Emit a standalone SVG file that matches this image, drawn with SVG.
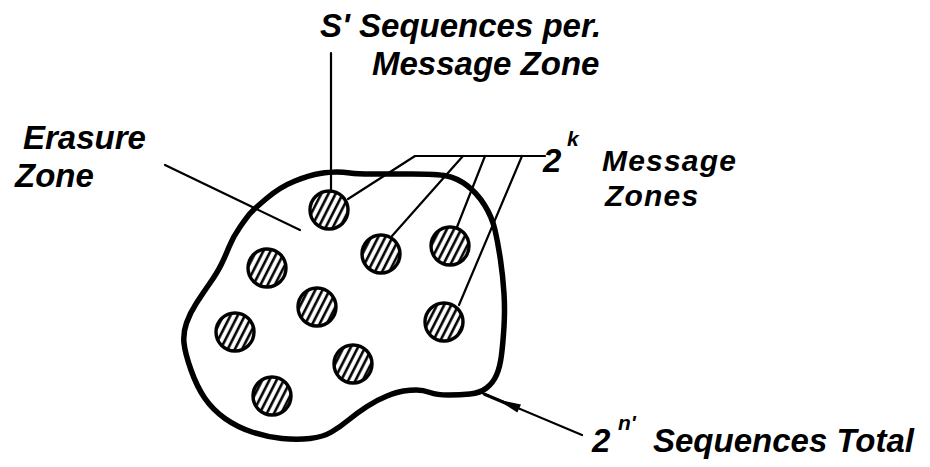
<svg xmlns="http://www.w3.org/2000/svg" width="930" height="467" viewBox="0 0 930 467">
<style>
.t{font-family:"Liberation Sans",Arial,sans-serif;font-weight:bold;font-style:italic;font-size:33px;fill:#000}
.s30{font-size:30px;letter-spacing:1.2px}
.sup{font-size:21px}
.ld{stroke:#000;stroke-width:2.2;fill:none;stroke-linecap:round;stroke-linejoin:round}
.zone{fill:url(#hatch);stroke:#000;stroke-width:3.4}
.blob{fill:none;stroke:#000;stroke-width:5.5;stroke-linejoin:round}
</style>
<defs>
<pattern id="hatch" patternUnits="userSpaceOnUse" width="6.4" height="10" patternTransform="rotate(27)">
<rect width="6.4" height="10" fill="#fff"/>
<line x1="3" y1="-1" x2="3" y2="11" stroke="#000" stroke-width="2.6"/>
</pattern>
</defs>
<rect width="930" height="467" fill="#fff"/>
<g id="total-space">
<path class="blob" d="M266.5,198.5 Q280,187 295,181 Q310,175 320,173.5 Q330,172 336.5,172 Q343,172 350,173 Q357,174 372,174 Q387,174 412,174 Q437,174 447,176 Q457,178 467,185.5 Q477,193 484.5,205 Q492,217 495,230 Q498,243 500.5,260 Q503,277 504,293.5 Q505,310 504,326.5 Q503,343 501.5,355 Q500,367 496.5,375 Q493,383 486.5,388 Q480,393 470,394 Q460,395 448.5,395 Q437,395 430,392.5 Q423,390 416.5,390 Q410,390 403.5,391 Q397,392 387,396 Q377,400 367,406.5 Q357,413 348.5,420 Q340,427 331.5,432 Q323,437 310,438.5 Q297,440 282,438.5 Q267,437 252,432 Q237,427 225,418.5 Q213,410 205,398.5 Q197,387 191,370 Q185,353 184,343 Q183,333 186.5,323 Q190,313 196.5,303 Q203,293 210,283 Q217,273 221,265 Q225,257 229,247 Q233,237 240,227 Q247,217 250,213.5 Q253,210 266.5,198.5 Z"/>
</g>
<g id="message-zones">
<circle class="zone" cx="329" cy="210" r="19"/>
<circle class="zone" cx="381" cy="254" r="19"/>
<circle class="zone" cx="450" cy="246" r="19"/>
<circle class="zone" cx="267" cy="268" r="19"/>
<circle class="zone" cx="317" cy="307" r="19"/>
<circle class="zone" cx="444" cy="322" r="19"/>
<circle class="zone" cx="235" cy="332" r="19"/>
<circle class="zone" cx="353" cy="364" r="19"/>
<circle class="zone" cx="272" cy="396" r="19"/>
</g>
<g id="connectors">
<line class="ld" x1="331" y1="53" x2="331" y2="191"/>
<line class="ld" x1="165" y1="165" x2="300" y2="230"/>
<polyline class="ld" points="348,199 415,156 545,156"/>
<line class="ld" x1="463" y1="156" x2="392" y2="236"/>
<line class="ld" x1="485" y1="156" x2="457" y2="227"/>
<line class="ld" x1="522" y1="156" x2="459" y2="305"/>
<line class="ld" x1="482" y1="393" x2="582" y2="435"/>
<line x1="484" y1="394" x2="510" y2="405" stroke="#000" stroke-width="3.2"/>
<polygon points="497,399.3 521,404.6 517.3,412.6" fill="#000"/>
</g>
<g id="labels">
<text class="t" x="320" y="37">S' Sequences per.</text>
<text class="t" x="372" y="75">Message Zone</text>
<text class="t" x="23" y="149">Erasure</text>
<text class="t" x="15" y="187">Zone</text>
<text class="t" x="543" y="172">2</text>
<text class="t sup" x="567" y="146">k</text>
<text class="t s30" x="602" y="171">Message</text>
<text class="t s30" x="605" y="206">Zones</text>
<text class="t" x="592" y="452">2</text>
<text class="t sup" x="618" y="430">n'</text>
<text class="t" x="653" y="452">Sequences Total</text>
</g>
</svg>
